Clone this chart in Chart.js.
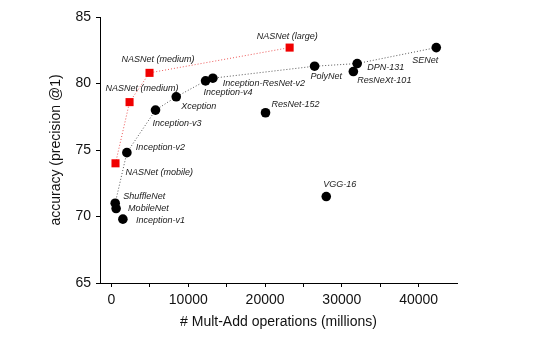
<!DOCTYPE html>
<html>
<head>
<meta charset="utf-8">
<script src="https://cdn.jsdelivr.net/npm/chart.js@4"></script>
<style>
	html, body { margin: 0; padding: 0; background: #fff; }
	#wrap { width: 539px; height: 344px; }
</style>
</head>
<body>
<div id="wrap"><canvas id="myChart" width="539" height="344"></canvas></div>
<script>
// models shown as black circles
const modelNames = ['Inception-v1', 'MobileNet', 'ShuffleNet', 'Inception-v2', 'Inception-v3', 'Xception',
	'Inception-v4', 'Inception-ResNet-v2', 'ResNet-152', 'PolyNet', 'ResNeXt-101', 'DPN-131', 'SENet', 'VGG-16']
const modelMultAdds = [1480, 600, 480, 2000, 5730, 8430, 12250, 13200, 20060, 26450, 31500, 32000, 42300, 27970]
const modelAccuracy = [69.8, 70.6, 71.0, 74.8, 78.0, 79.0, 80.2, 80.4, 77.8, 81.3, 80.9, 81.5, 82.7, 71.5]

// NASNet models (red squares)
const nasnetNames = ['NASNet (mobile)', 'NASNet (medium)', 'NASNet (medium)', 'NASNet (large)']
const nasnetMultAdds = [520, 2350, 4950, 23200]
const nasnetAccuracy = [74.0, 78.6, 80.8, 82.7]

// models joined by the dotted black line
const frontierNames = ['ShuffleNet', 'Inception-v2', 'Inception-v3', 'Xception', 'Inception-v4',
	'Inception-ResNet-v2', 'PolyNet', 'DPN-131', 'SENet']

const xTicks = [0, 5000, 10000, 15000, 20000, 25000, 30000, 35000, 40000]
const yTicks = [65, 70, 75, 80, 85]

// label offsets in pixels (text left edge, vertical middle) relative to each point
const modelLabelOffsets = [[13, 1], [12, 0], [8, -7], [9, -5], [-3, 13], [5, 10], [-2, 12], [10, 5],
	[6, -8], [-4, 10], [4, 9], [10, 4], [-24, 13], [-3, -12]]
const nasnetLabelOffsets = [[10, 9], [-24, -14], [-28, -13], [-33, -11]]

const modelPoints = modelNames.map((n, i) => ({ x: modelMultAdds[i], y: modelAccuracy[i] }))
const nasnetPoints = nasnetNames.map((n, i) => ({ x: nasnetMultAdds[i], y: nasnetAccuracy[i] }))
const frontierPoints = frontierNames.map(n => {
	const i = modelNames.indexOf(n)
	return { x: modelMultAdds[i], y: modelAccuracy[i] }
})

const fontFamily = '"Liberation Sans", Arial, Helvetica, sans-serif'

const labelPlugin = {
	id: 'pointLabels',
	afterDatasetsDraw(chart) {
		const { ctx, scales } = chart
		ctx.save()
		ctx.font = 'italic 9px ' + fontFamily
		ctx.fillStyle = '#1a1a1a'
		ctx.textAlign = 'left'
		ctx.textBaseline = 'middle'
		const draw = (names, xs, ys, offs) => {
			names.forEach((n, i) => {
				const px = scales.x.getPixelForValue(xs[i])
				const py = scales.y.getPixelForValue(ys[i])
				ctx.fillText(n, px + offs[i][0], py + offs[i][1])
			})
		}
		draw(modelNames, modelMultAdds, modelAccuracy, modelLabelOffsets)
		draw(nasnetNames, nasnetMultAdds, nasnetAccuracy, nasnetLabelOffsets)
		ctx.restore()
	}
}

const ctx = document.getElementById('myChart')
var chart = new Chart(ctx, {
	type: 'scatter',
	data: {
		datasets: [{
			label: 'NASNet line',
			data: nasnetPoints,
			showLine: true,
			borderColor: 'rgba(235, 70, 70, 0.9)',
			borderWidth: 1,
			borderDash: [1, 2],
			pointRadius: 0,
			order: 3
		}, {
			label: 'frontier',
			data: frontierPoints,
			showLine: true,
			borderColor: '#555',
			borderWidth: 1,
			borderDash: [1, 2],
			pointRadius: 0,
			order: 3
		}, {
			label: 'models',
			data: modelPoints,
			backgroundColor: '#000',
			borderColor: '#000',
			borderWidth: 0,
			pointRadius: 4.8,
			order: 1
		}, {
			label: 'NASNet',
			data: nasnetPoints,
			pointStyle: 'rect',
			backgroundColor: '#f00000',
			borderColor: '#f00000',
			borderWidth: 0,
			pointRadius: 5.7,
			order: 2
		}]
	},
	options: {
		responsive: false,
		animation: false,
		events: [],
		layout: {
			padding: { left: 0, right: 82, top: 17, bottom: 0 }
		},
		plugins: {
			legend: { display: false },
			tooltip: { enabled: false }
		},
		scales: {
			x: {
				type: 'linear',
				min: -1500,
				max: 45000,
				afterBuildTicks: scale => { scale.ticks = xTicks.map(v => ({ value: v })) },
				afterFit: scale => { scale.height = 61 },
				border: { display: true, color: '#000', width: 1 },
				grid: { display: true, drawOnChartArea: false, drawTicks: true, tickLength: 4, color: '#000' },
				ticks: {
					color: '#111',
					padding: 5,
					maxRotation: 0,
					autoSkip: false,
					font: { family: fontFamily, size: 14 },
					callback: value => (value % 10000 === 0 ? String(value) : '')
				},
				title: {
					display: true,
					text: '# Mult-Add operations (millions)',
					color: '#111',
					font: { family: fontFamily, size: 14 },
					padding: { top: 0, bottom: 13 }
				}
			},
			y: {
				type: 'linear',
				min: 65,
				max: 85,
				afterBuildTicks: scale => { scale.ticks = yTicks.map(v => ({ value: v })) },
				afterFit: scale => { scale.width = 100 },
				border: { display: true, color: '#000', width: 1 },
				grid: { display: true, drawOnChartArea: false, drawTicks: true, tickLength: 4, color: '#000' },
				ticks: {
					color: '#111',
					padding: 5,
					font: { family: fontFamily, size: 14 }
				},
				title: {
					display: true,
					text: 'accuracy (precision @1)',
					color: '#111',
					font: { family: fontFamily, size: 14 },
					padding: { top: 48, bottom: 0 }
				}
			}
		}
	},
	plugins: [labelPlugin]
})
</script>
</body>
</html>
